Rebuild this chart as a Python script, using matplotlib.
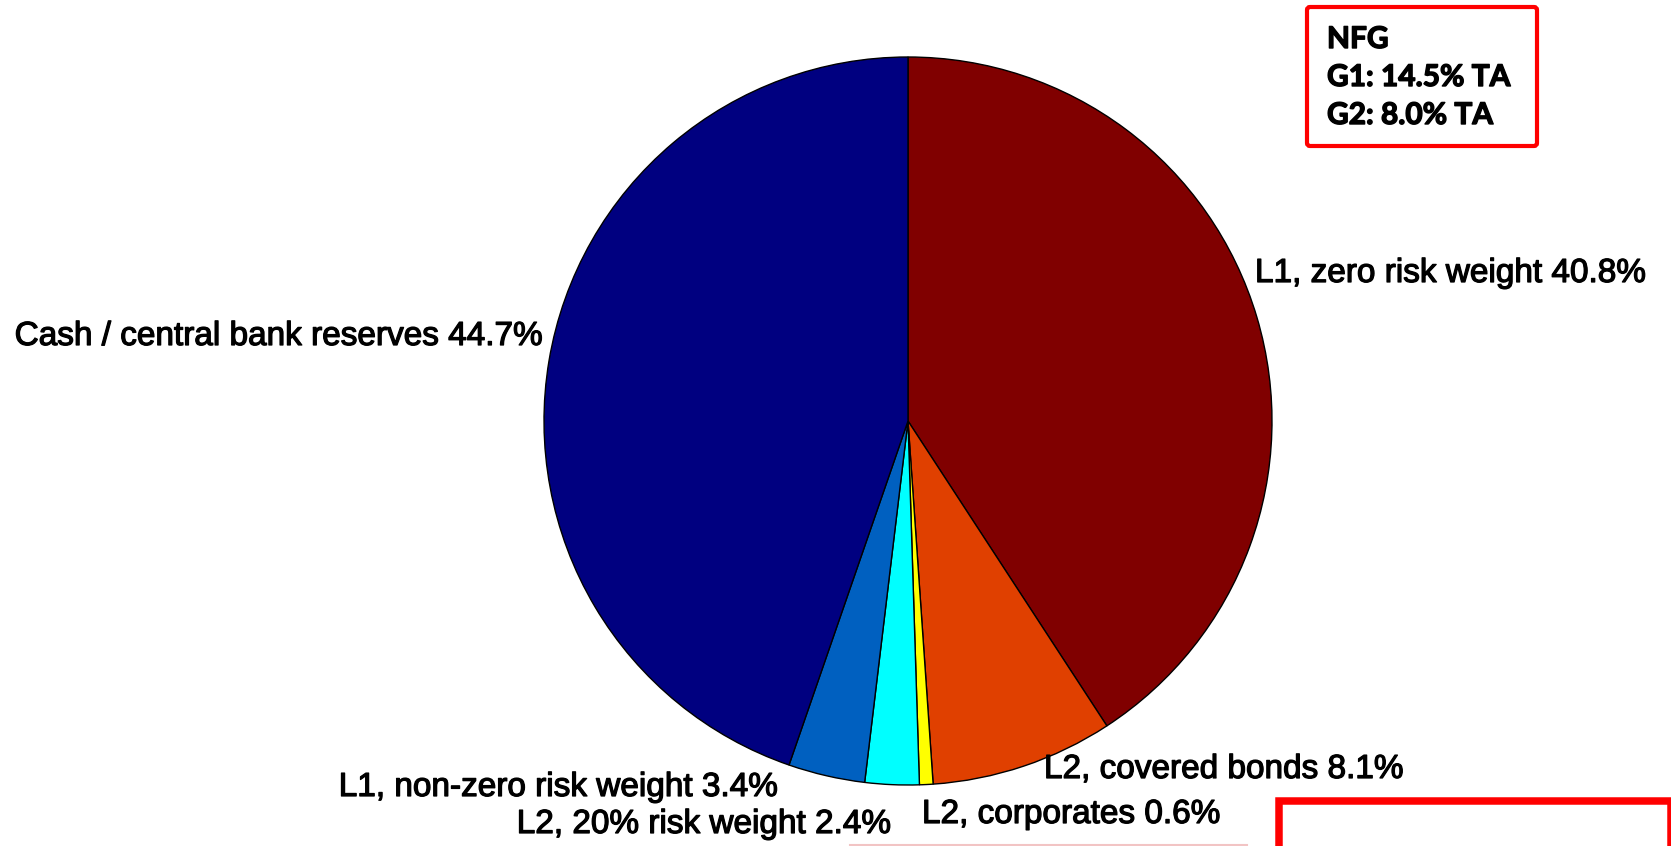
import matplotlib
matplotlib.use("Agg")
import matplotlib.pyplot as plt
import matplotlib.patheffects as pe
from matplotlib.patches import Rectangle, FancyBboxPatch

# liquid asset buffer composition, clockwise from 12 o'clock
names = ["L1, zero risk weight", "L2, covered bonds", "L2, corporates",
         "L2, 20% risk weight", "L1, non-zero risk weight",
         "Cash / central bank reserves"]
shares = [40.8, 8.1, 0.6, 2.4, 3.4, 44.7]
colors = ["#800000", "#e04000", "#ffff00", "#00ffff", "#0060c0", "#000080"]

box_lines = ["NFG", "G1: 14.5% TA", "G2: 8.0% TA"]

W, H = 1671, 846

# label anchors in pixel coords (x, baseline y, alignment)
label_pos = [(1255, 282, "left"), (1044, 778, "left"), (922, 823, "left"),
             (891, 833, "right"), (778, 796, "right"), (543, 345, "right")]


def main():
    fig = plt.figure(figsize=(W / 100, H / 100), dpi=100)
    ax = fig.add_axes([0, 0, 1, 1])

    ax.pie(shares, colors=colors, startangle=90, counterclock=False,
           center=(908, H - 421), radius=364,
           wedgeprops=dict(edgecolor="black", linewidth=1.0))
    ax.set_xlim(0, W)
    ax.set_ylim(0, H)
    ax.set_aspect("equal")
    ax.axis("off")

    heavy = [pe.withStroke(linewidth=0.9, foreground="black")]
    for name, val, (x, y, ha) in zip(names, shares, label_pos):
        ax.text(x, H - y, f"{name} {val:.1f}%", ha=ha, va="baseline",
                fontsize=24, family="Liberation Sans", color="black",
                path_effects=heavy)

    # annotation box, top right
    ax.add_patch(FancyBboxPatch((1307, H - 146), 230, 139,
                                boxstyle="round,pad=0,rounding_size=3",
                                fill=False, edgecolor="#ff0000", linewidth=3))
    for i, line in enumerate(box_lines):
        ax.text(1327, H - (48 + i * 38), line, ha="left", va="baseline",
                fontsize=21.5, fontweight="bold", family="Lato", color="black",
                path_effects=[pe.withStroke(linewidth=1.0, foreground="black")])

    # second box, cut off by the bottom edge
    ax.add_patch(Rectangle((1279, H - 901), 392, 100, fill=False,
                           edgecolor="#ff0000", linewidth=5.4))
    ax.plot([850, 1247], [1, 1], color="#f2c4c4", linewidth=1.5)

    fig.savefig("out.png", dpi=100)


if __name__ == "__main__":
    main()
